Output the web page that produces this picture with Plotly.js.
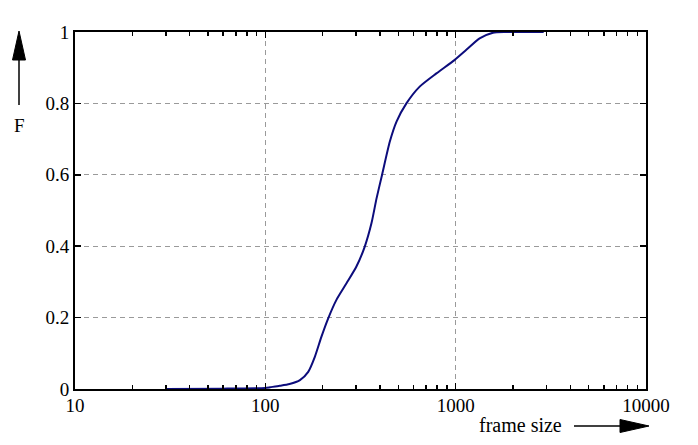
<!DOCTYPE html>
<html>
<head>
<meta charset="utf-8">
<script src="https://cdn.plot.ly/plotly-3.0.1.min.js"></script>
<style>
  body { margin: 0; background: #fff; }
  #cdf { width: 698px; height: 445px; }
</style>
</head>
<body>
<div id="cdf"></div>
<script>
// cumulative distribution of frame sizes
var frameSize = [30, 60, 100, 106, 119, 134, 152, 168, 182, 197, 214, 236, 267, 301, 333, 361, 384, 410, 451, 489, 551, 647, 792, 989, 1138, 1336, 1571, 1846, 2900];
var cdf       = [0, 0.001, 0.003, 0.005, 0.009, 0.014, 0.025, 0.048, 0.09, 0.146, 0.198, 0.249, 0.296, 0.343, 0.399, 0.464, 0.534, 0.599, 0.693, 0.749, 0.800, 0.847, 0.884, 0.922, 0.950, 0.982, 0.998, 1.0, 1.0];

var xTickVals = [10, 100, 1000, 10000];
var xTickText = ['10', '100', '1000', '10000'];
var yTickVals = [0, 0.2, 0.4, 0.6, 0.8, 1];
var yTickText = ['0', '0.2', '0.4', '0.6', '0.8', '1'];

var minorVals = [];
[10, 100, 1000].forEach(function(d){
  for (var k = 2; k <= 9; k++) minorVals.push(k * d);
});

var serif = '"Liberation Serif", "Times New Roman", serif';

// plot box in pixels, used only to place the two axis arrows
var W = 698, H = 445;
var margin = { l: 75, r: 52, t: 32, b: 56, pad: 0 };
var pw = W - margin.l - margin.r, ph = H - margin.t - margin.b;
function px(x) { return (x - margin.l) / pw; }
function py(y) { return (H - margin.b - y) / ph; }
function path(pts) {
  return 'M' + pts.map(function(p){ return px(p[0]) + ',' + py(p[1]); }).join(' L') + ' Z';
}

var trace = {
  x: frameSize,
  y: cdf,
  mode: 'lines',
  line: { color: '#0c0c7c', width: 2, shape: 'spline', smoothing: 0.6 },
  hoverinfo: 'skip'
};

var layout = {
  width: W,
  height: H,
  showlegend: false,
  margin: margin,
  paper_bgcolor: '#fff',
  plot_bgcolor: '#fff',
  font: { family: serif, size: 19, color: '#000' },
  xaxis: {
    type: 'log',
    range: [1, 4],
    tickvals: xTickVals,
    ticktext: xTickText,
    ticks: 'inside',
    ticklen: 6,
    tickwidth: 1.5,
    tickcolor: '#000',
    ticklabelstandoff: -2,
    showline: true,
    linecolor: '#000',
    linewidth: 2,
    mirror: 'ticks',
    showgrid: true,
    gridcolor: '#9a9a9a',
    griddash: '5px,4px',
    gridwidth: 1,
    zeroline: false,
    minor: {
      tickvals: minorVals,
      ticks: 'inside',
      ticklen: 4,
      tickwidth: 1.5,
      tickcolor: '#000',
      showgrid: false
    },
    tickfont: { family: serif, size: 19, color: '#000' }
  },
  yaxis: {
    range: [0, 1],
    tickvals: yTickVals,
    ticktext: yTickText,
    ticks: 'inside',
    ticklen: 6,
    tickwidth: 1.5,
    tickcolor: '#000',
    showline: true,
    linecolor: '#000',
    linewidth: 2,
    mirror: 'ticks',
    showgrid: true,
    gridcolor: '#9a9a9a',
    griddash: '5px,4px',
    gridwidth: 1,
    zeroline: false,
    tickfont: { family: serif, size: 19, color: '#000' }
  },
  annotations: [
    { text: 'F', xref: 'paper', yref: 'paper', x: px(19), y: py(126),
      showarrow: false, xanchor: 'center', yanchor: 'middle',
      font: { family: serif, size: 19, color: '#000' } },
    { text: 'frame size', xref: 'paper', yref: 'paper', x: px(520), y: py(425),
      showarrow: false, xanchor: 'center', yanchor: 'middle',
      font: { family: serif, size: 20, color: '#000' } }
  ],
  shapes: [
    { type: 'line', xref: 'paper', yref: 'paper',
      x0: px(19), y0: py(105), x1: px(19), y1: py(58),
      line: { color: '#000', width: 1.5 } },
    { type: 'path', xref: 'paper', yref: 'paper',
      path: path([[19, 31], [25.5, 60], [12.5, 60]]),
      fillcolor: '#000', line: { color: '#000', width: 1 } },
    { type: 'line', xref: 'paper', yref: 'paper',
      x0: px(574), y0: py(426), x1: px(622), y1: py(426),
      line: { color: '#000', width: 1.5 } },
    { type: 'path', xref: 'paper', yref: 'paper',
      path: path([[649, 426], [620, 419.5], [620, 432.5]]),
      fillcolor: '#000', line: { color: '#000', width: 1 } }
  ]
};

Plotly.newPlot('cdf', [trace], layout, { displayModeBar: false, staticPlot: true });
</script>
</body>
</html>
